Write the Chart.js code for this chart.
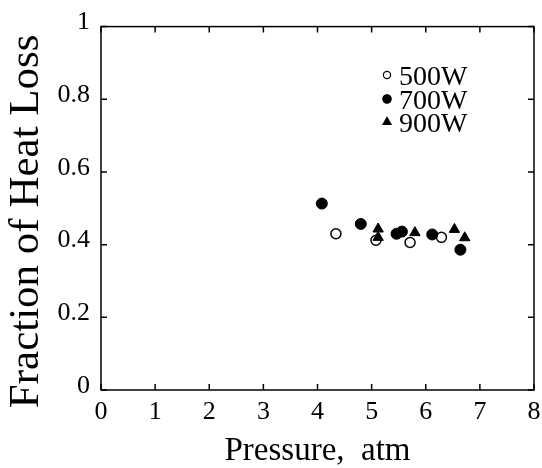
<!DOCTYPE html>
<html>
<head>
<meta charset="utf-8">
<script src="https://cdn.jsdelivr.net/npm/chart.js@4"></script>
<style>
  html, body { margin: 0; padding: 0; background: #fff; }
</style>
</head>
<body>
<canvas id="chart" width="542" height="468"></canvas>
<script>
// values
const xTicks = [0, 1, 2, 3, 4, 5, 6, 7, 8];
const yTicks = [0, 0.2, 0.4, 0.6, 0.8, 1];
const yTickLabels = ["0", "0.2", "0.4", "0.6", "0.8", "1"];

const seriesNames = ["500W", "700W", "900W"];

const pressure500 = [4.34, 5.08, 5.71, 6.29];
const heatLoss500 = [0.430, 0.412, 0.406, 0.420];

const pressure700 = [4.08, 4.80, 5.46, 5.56, 6.12, 6.64];
const heatLoss700 = [0.513, 0.457, 0.430, 0.436, 0.428, 0.386];

const pressure900 = [5.12, 5.12, 5.80, 6.53, 6.72];
const heatLoss900 = [0.443, 0.420, 0.433, 0.442, 0.419];

const yTitle = "Fraction of Heat Loss";
const xTitle = "Pressure,  atm";

const serif = "'Liberation Serif', 'Times New Roman', serif";

function toPoints(xs, ys) {
  return xs.map((x, i) => ({ x: x, y: ys[i] }));
}

// box round the plot with inward ticks on all four sides
const framePlugin = {
  id: "frame",
  beforeDatasetsDraw(chart) {
    const { ctx, chartArea: a, scales } = chart;
    const len = 6;
    ctx.save();
    ctx.strokeStyle = "#000";
    ctx.lineWidth = 1.5;
    ctx.strokeRect(a.left, a.top, a.right - a.left, a.bottom - a.top);
    ctx.beginPath();
    xTicks.forEach((v) => {
      const px = scales.x.getPixelForValue(v);
      ctx.moveTo(px, a.bottom);
      ctx.lineTo(px, a.bottom - len);
      ctx.moveTo(px, a.top);
      ctx.lineTo(px, a.top + len);
    });
    yTicks.forEach((v) => {
      const py = scales.y.getPixelForValue(v);
      ctx.moveTo(a.left, py);
      ctx.lineTo(a.left + len, py);
      ctx.moveTo(a.right, py);
      ctx.lineTo(a.right - len, py);
    });
    ctx.stroke();
    ctx.restore();
  },
};

// y title drawn by hand, it sits a bit lower than the plot centre
const yTitlePlugin = {
  id: "yTitle",
  afterDraw(chart) {
    const { ctx, chartArea: a } = chart;
    ctx.save();
    ctx.translate(27, (a.top + a.bottom) / 2 + 13);
    ctx.rotate(-Math.PI / 2);
    ctx.font = "43px " + serif;
    ctx.fillStyle = "#000";
    ctx.textAlign = "center";
    ctx.textBaseline = "middle";
    ctx.fillText(yTitle, 0, 0);
    ctx.restore();
  },
};

// small legend inside the upper right of the plot
const legendPlugin = {
  id: "insideLegend",
  afterDraw(chart) {
    const { ctx } = chart;
    const symX = 387;
    const textX = 399;
    const rows = [75, 99, 122];
    ctx.save();
    ctx.font = "28px " + serif;
    ctx.textBaseline = "middle";
    ctx.textAlign = "left";
    chart.data.datasets.forEach((ds, i) => {
      const y = rows[i];
      ctx.fillStyle = ds.backgroundColor;
      ctx.strokeStyle = "#000";
      ctx.lineWidth = 1.2;
      ctx.beginPath();
      if (ds.pointStyle === "triangle") {
        const r = 4.6;
        ctx.moveTo(symX, y - r);
        ctx.lineTo(symX + r * 0.866, y + r * 0.5);
        ctx.lineTo(symX - r * 0.866, y + r * 0.5);
        ctx.closePath();
      } else {
        ctx.arc(symX, y, ds.backgroundColor === "#fff" ? 3.6 : 4.2, 0, Math.PI * 2);
      }
      ctx.fill();
      ctx.stroke();
      ctx.fillStyle = "#000";
      ctx.fillText(ds.label, textX, y + 3);
    });
    ctx.restore();
  },
};

new Chart(document.getElementById("chart"), {
  type: "scatter",
  data: {
    datasets: [
      {
        label: seriesNames[0],
        data: toPoints(pressure500, heatLoss500),
        pointStyle: "circle",
        pointRadius: 5,
        backgroundColor: "#fff",
        borderColor: "#000",
        borderWidth: 1.5,
        order: 3,
      },
      {
        label: seriesNames[1],
        data: toPoints(pressure700, heatLoss700),
        pointStyle: "circle",
        pointRadius: 5.5,
        backgroundColor: "#000",
        borderColor: "#000",
        borderWidth: 1,
        order: 2,
      },
      {
        label: seriesNames[2],
        data: toPoints(pressure900, heatLoss900),
        pointStyle: "triangle",
        pointRadius: 6,
        backgroundColor: "#000",
        borderColor: "#000",
        borderWidth: 1,
        order: 1,
      },
    ],
  },
  options: {
    responsive: false,
    devicePixelRatio: 1,
    animation: false,
    layout: { padding: { top: 24, right: 8, left: 0, bottom: 0 } },
    plugins: {
      legend: { display: false },
      tooltip: { enabled: false },
    },
    scales: {
      x: {
        type: "linear",
        min: 0,
        max: 8,
        afterBuildTicks: (scale) => {
          scale.ticks = xTicks.map((v) => ({ value: v }));
        },
        afterFit: (scale) => {
          scale.height = 78;
          scale.paddingLeft = 0;
          scale.paddingRight = 0;
        },
        grid: { display: false, drawTicks: false },
        border: { display: false },
        ticks: {
          color: "#000",
          font: { family: serif, size: 26 },
          padding: 7,
          maxRotation: 0,
          callback: (v) => String(v),
        },
        title: {
          display: true,
          text: xTitle,
          color: "#000",
          font: { family: serif, size: 33, lineHeight: 1 },
          padding: { top: 0, bottom: 0 },
        },
      },
      y: {
        type: "linear",
        min: 0,
        max: 1,
        afterBuildTicks: (scale) => {
          scale.ticks = yTicks.map((v) => ({ value: v }));
        },
        afterFit: (scale) => {
          scale.width = 101;
        },
        grid: { display: false, drawTicks: false },
        border: { display: false },
        ticks: {
          color: "#000",
          font: { family: serif, size: 26 },
          padding: 11,
          labelOffset: -4,
          callback: (v) => yTickLabels[yTicks.indexOf(v)],
        },
        title: { display: false },
      },
    },
  },
  plugins: [framePlugin, yTitlePlugin, legendPlugin],
});
</script>
</body>
</html>
